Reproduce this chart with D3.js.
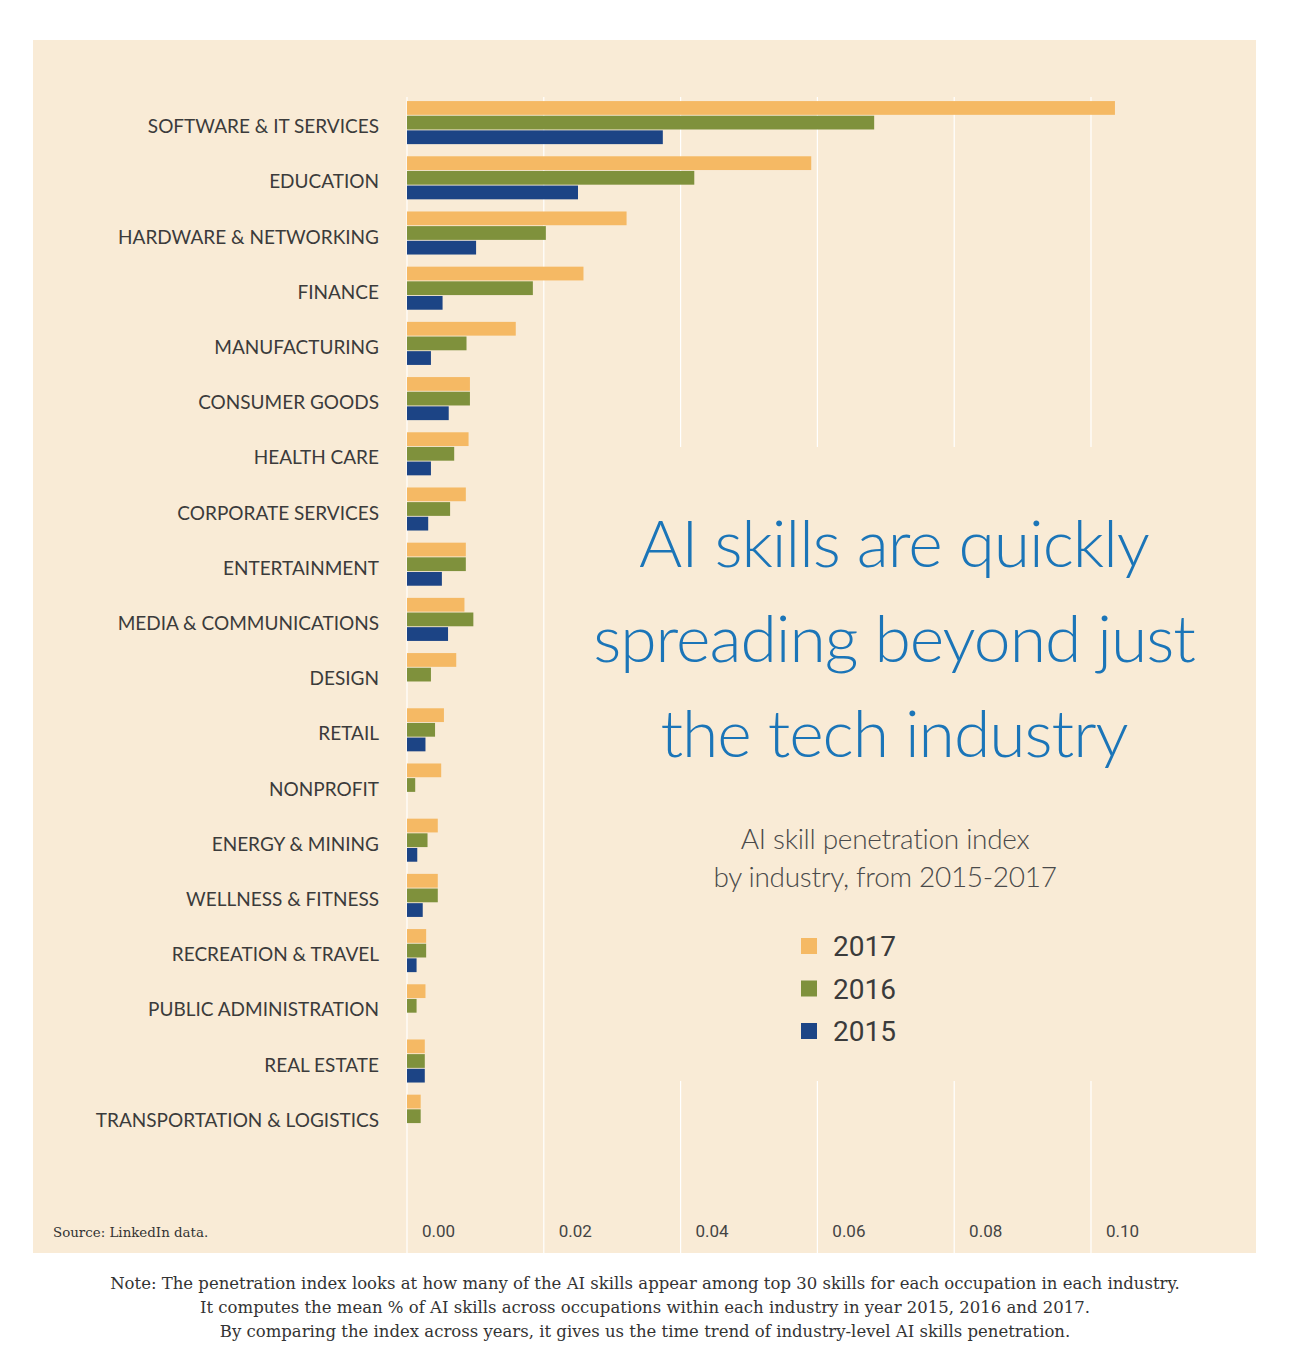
<!DOCTYPE html>
<html>
<head>
<meta charset="utf-8">
<script src="https://cdn.jsdelivr.net/npm/d3@7"></script>
<style>
  body { margin: 0; background: #ffffff; }
</style>
</head>
<body>
<script>
// data
var industries = ["SOFTWARE & IT SERVICES", "EDUCATION", "HARDWARE & NETWORKING", "FINANCE",
  "MANUFACTURING", "CONSUMER GOODS", "HEALTH CARE", "CORPORATE SERVICES", "ENTERTAINMENT",
  "MEDIA & COMMUNICATIONS", "DESIGN", "RETAIL", "NONPROFIT", "ENERGY & MINING",
  "WELLNESS & FITNESS", "RECREATION & TRAVEL", "PUBLIC ADMINISTRATION", "REAL ESTATE",
  "TRANSPORTATION & LOGISTICS"];
var years = ["2017", "2016", "2015"];
var v2017 = [0.1035, 0.0591, 0.0321, 0.0258, 0.0159, 0.0092, 0.0090, 0.0086, 0.0086, 0.0084,
  0.0072, 0.0054, 0.0050, 0.0045, 0.0045, 0.0028, 0.0027, 0.0026, 0.0020];
var v2016 = [0.0683, 0.0420, 0.0203, 0.0184, 0.0087, 0.0092, 0.0069, 0.0063, 0.0086, 0.0097,
  0.0035, 0.0041, 0.0012, 0.0030, 0.0045, 0.0028, 0.0014, 0.0026, 0.0020];
var v2015 = [0.0374, 0.0250, 0.0101, 0.0052, 0.0035, 0.0061, 0.0035, 0.0031, 0.0051, 0.0060,
  0, 0.0027, 0, 0.0015, 0.0023, 0.0014, 0, 0.0026, 0];
var tickValues = [0, 0.02, 0.04, 0.06, 0.08, 0.10];
var colors = ["#f5b964", "#7f913c", "#1c4485"];

var bg = "#f9ebd6";

var svg = d3.select("body")
  .append("svg")
  .attr("width", 1289)
  .attr("height", 1364);

// panel
svg.append("rect")
  .attr("x", 33)
  .attr("y", 40)
  .attr("width", 1223)
  .attr("height", 1213)
  .style("fill", bg);

var x = d3.scaleLinear().domain([0, 0.1]).range([407, 1091]);

var y = d3.scaleBand()
  .domain(industries)
  .range([95, 95 + 19 * 55.2])
  .paddingInner(0.22)
  .paddingOuter(0.11);

var y1 = d3.scaleBand()
  .domain(years)
  .range([0, y.bandwidth()])
  .paddingInner(0.06);

// gridlines
svg.selectAll(".grid")
  .data(tickValues)
  .enter().append("line")
  .attr("x1", d => x(d))
  .attr("x2", d => x(d))
  .attr("y1", 97)
  .attr("y2", 1253)
  .style("stroke", "#ffffff")
  .style("stroke-width", 1.2);

// the text block covers the grid
svg.append("rect")
  .attr("x", 600)
  .attr("y", 447)
  .attr("width", 656)
  .attr("height", 634)
  .style("fill", bg);

var rows = industries.map(function (name, i) {
  return { name: name, values: [v2017[i], v2016[i], v2015[i]] };
});

var groups = svg.selectAll(".group")
  .data(rows)
  .enter().append("g")
  .attr("transform", d => "translate(0," + y(d.name) + ")");

groups.selectAll("rect")
  .data(d => d.values.map((v, j) => ({ year: years[j], value: v, color: colors[j] })))
  .enter().append("rect")
  .filter(d => d.value > 0)
  .attr("x", x(0))
  .attr("y", d => y1(d.year))
  .attr("width", d => x(d.value) - x(0))
  .attr("height", y1.bandwidth())
  .style("fill", d => d.color);

// category labels
svg.selectAll(".cat")
  .data(industries)
  .enter().append("text")
  .attr("x", 379)
  .attr("y", d => y(d) + y.bandwidth() / 2 + 4)
  .attr("dy", "0.35em")
  .attr("text-anchor", "end")
  .style("font-family", "Lato, 'Open Sans', sans-serif")
  .style("font-size", "19px")
  .style("fill", "#3b3b3b")
  .text(d => d);

// x axis labels
var axis = d3.axisBottom(x)
  .tickValues(tickValues)
  .tickFormat(d3.format(".2f"))
  .tickSize(0);

var gx = svg.append("g")
  .attr("transform", "translate(31,1222)")
  .call(axis);
gx.select(".domain").remove();
gx.selectAll("text")
  .style("font-family", "'Liberation Sans Narrow', 'Roboto', sans-serif")
  .style("font-size", "17px")
  .style("fill", "#444444");

// title
var title = ["AI skills are quickly", "spreading beyond just", "the tech industry"];
svg.selectAll(".title")
  .data(title)
  .enter().append("text")
  .attr("x", 894)
  .attr("y", (d, i) => 567 + i * 95)
  .attr("text-anchor", "middle")
  .style("font-family", "Lato, 'Open Sans', sans-serif")
  .style("font-weight", 300)
  .style("font-size", "66px")
  .style("letter-spacing", "-1px")
  .style("fill", "#1b75b8")
  .text(d => d);

var sub = ["AI skill penetration index", "by industry, from 2015-2017"];
svg.selectAll(".sub")
  .data(sub)
  .enter().append("text")
  .attr("x", 885)
  .attr("y", (d, i) => 849 + i * 38)
  .attr("text-anchor", "middle")
  .style("font-family", "Lato, 'Open Sans', sans-serif")
  .style("font-weight", 300)
  .style("font-size", "28px")
  .style("letter-spacing", "-0.3px")
  .style("fill", "#4a4a4a")
  .text(d => d);

// legend
var legend = svg.selectAll(".legend")
  .data(years)
  .enter().append("g")
  .attr("transform", (d, i) => "translate(801," + (938 + i * 42.5) + ")");
legend.append("rect")
  .attr("width", 16)
  .attr("height", 16)
  .style("fill", (d, i) => colors[i]);
legend.append("text")
  .attr("x", 32)
  .attr("y", 8)
  .attr("dy", "0.36em")
  .style("font-family", "'Liberation Sans Narrow', 'Roboto', sans-serif")
  .style("font-size", "28px")
  .style("fill", "#3b3b3b")
  .text(d => d);

// source + note
svg.append("text")
  .attr("x", 53)
  .attr("y", 1237)
  .style("font-family", "'DejaVu Serif', serif")
  .style("font-size", "13.4px")
  .style("fill", "#333333")
  .text("Source: LinkedIn data.");

var notes = [
  "Note: The penetration index looks at how many of the AI skills appear among top 30 skills for each occupation in each industry.",
  "It computes the mean % of AI skills across occupations within each industry in year 2015, 2016 and 2017.",
  "By comparing the index across years, it gives us the time trend of industry-level AI skills penetration."
];
svg.selectAll(".note")
  .data(notes)
  .enter().append("text")
  .attr("x", 645)
  .attr("y", (d, i) => 1289 + i * 24)
  .attr("text-anchor", "middle")
  .style("font-family", "'DejaVu Serif', serif")
  .style("font-size", "16.5px")
  .style("fill", "#333333")
  .text(d => d);
</script>
</body>
</html>
